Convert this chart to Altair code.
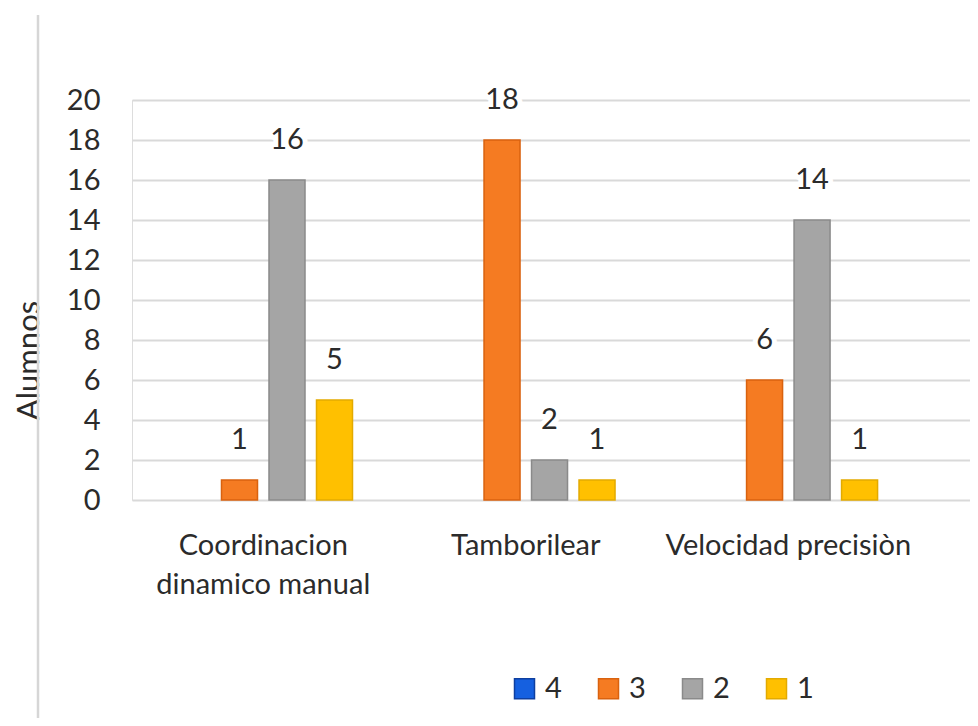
import altair as alt
import pandas as pd

categories = ["Coordinacion\ndinamico manual", "Tamborilear", "Velocidad precisiòn"]
series = ["4", "3", "2", "1"]
values_4 = [0, 0, 0]
values_3 = [1, 18, 6]
values_2 = [16, 2, 14]
values_1 = [5, 1, 1]
fill_colors = ["#1560e0", "#f57b22", "#a5a5a5", "#ffc000"]
stroke_colors = ["#0e3fa0", "#d9620f", "#8a8a8a", "#e3aa00"]
y_ticks = [0, 2, 4, 6, 8, 10, 12, 14, 16, 18, 20]

rows = []
for s, vals in zip(series, [values_4, values_3, values_2, values_1]):
    for c, v in zip(categories, vals):
        rows.append({"categoria": c, "serie": s, "valor": v})
df = pd.DataFrame(rows)

FONT = "Lato"
TXT = "#2b2b2b"

x_enc = alt.X(
    "categoria:N",
    sort=categories,
    scale=alt.Scale(paddingInner=0, paddingOuter=0.096, align=0),
    axis=alt.Axis(
        title=None, labelAngle=0, domain=False, ticks=False,
        labelExpr="split(datum.label, '\\n')", labelLimit=0,
        labelFont=FONT, labelFontSize=29, labelColor=TXT,
        labelPadding=31, labelLineHeight=39, labelBaseline="top",
    ),
)
xoff = alt.XOffset("serie:N", sort=series,
                   scale=alt.Scale(domain=series, range=[42, 220.5],
                                   paddingInner=0.242, paddingOuter=0))
y_enc = alt.Y(
    "valor:Q",
    scale=alt.Scale(domain=[0, 20], nice=False),
    axis=alt.Axis(
        values=y_ticks, title="Alumnos", domain=False, ticks=False,
        grid=True, gridColor="#d9d9d9", gridWidth=2.2,
        labelFont=FONT, labelFontSize=29, labelColor=TXT, labelPadding=32,
        titleFont=FONT, titleFontSize=31, titleFontWeight="normal", titleColor=TXT,
        titleAngle=-90, titleX=-94, titleY=260, titleAlign="center",
        titleBaseline="alphabetic",
    ),
)

base = alt.Chart(df)

bars = base.transform_filter("datum.valor > 0").mark_bar(strokeWidth=1.5).encode(
    x=x_enc,
    xOffset=xoff,
    y=y_enc,
    fill=alt.Fill(
        "serie:N",
        sort=series,
        scale=alt.Scale(domain=series, range=fill_colors),
        legend=alt.Legend(
            title=None, orient="none", direction="horizontal", columns=4,
            legendX=378, legendY=574, symbolType="square", symbolSize=400,
            symbolStrokeWidth=1.5, labelFont=FONT, labelFontSize=29,
            labelColor=TXT, labelOffset=6, columnPadding=32,
        ),
    ),
    stroke=alt.Stroke(
        "serie:N", sort=series,
        scale=alt.Scale(domain=series, range=stroke_colors),
        legend=None,
    ),
)

halo = base.transform_filter("datum.valor > 0").mark_text(
    font=FONT, fontSize=29, baseline="middle", dy=-40,
    stroke="white", strokeWidth=10, strokeJoin="round", color="white",
).encode(x=x_enc, xOffset=xoff, y=y_enc, text=alt.Text("valor:Q"))

labels = base.transform_filter("datum.valor > 0").mark_text(
    font=FONT, fontSize=29, baseline="middle", dy=-40, color=TXT,
).encode(x=x_enc, xOffset=xoff, y=y_enc, text=alt.Text("valor:Q"))

frame = alt.Chart(pd.DataFrame({"k": [0]})).mark_rule(
    color="#d6d6d6", strokeWidth=2.5
).encode(x=alt.value(-94), y=alt.value(-85), y2=alt.value(626))

chart = alt.layer(bars, halo, labels, frame).properties(
    width=838, height=400,
    autosize=alt.AutoSizeParams(type="none"),
    padding={"left": 124, "top": 92, "right": 0, "bottom": 218},
).configure_view(stroke=None).configure(background="white")

chart.save("out.html", embed_options={"renderer": "svg", "actions": False})
